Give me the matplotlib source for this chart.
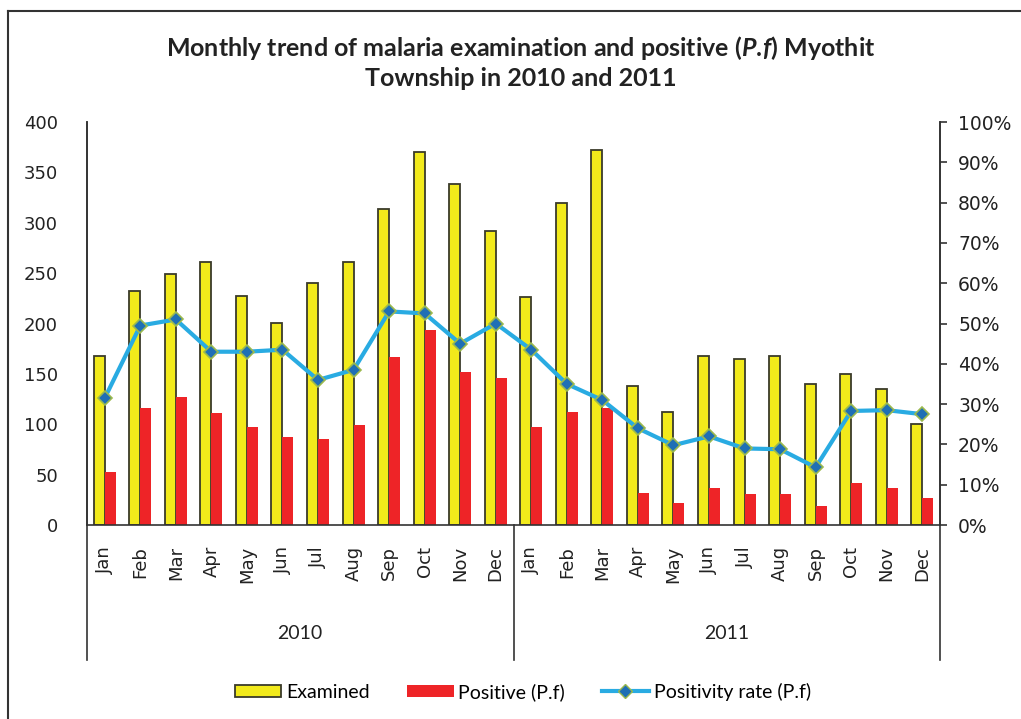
import numpy as np
import matplotlib.pyplot as plt
from matplotlib.lines import Line2D
from matplotlib.patches import Patch
from matplotlib.ticker import PercentFormatter

plt.rcParams["font.family"] = ["DejaVu Sans"]
plt.rcParams["mathtext.fontset"] = "custom"
plt.rcParams["mathtext.it"] = "Lato:italic:bold"
plt.rcParams["mathtext.rm"] = "Lato:bold"

months = ["Jan", "Feb", "Mar", "Apr", "May", "Jun", "Jul", "Aug", "Sep", "Oct", "Nov", "Dec"]
years = ["2010", "2011"]

examined = [168, 232, 249, 261, 227, 201, 240, 261, 314, 370, 338, 292,
            226, 320, 372, 138, 112, 168, 165, 168, 140, 150, 135, 100]
positive = [53, 116, 127, 111, 97, 87, 85, 99, 167, 194, 152, 146,
            97, 112, 116, 32, 22, 37, 31, 31, 19, 42, 37, 27]
pos_rate = [31.5, 49.5, 51, 43, 43, 43.5, 36, 38.5, 53, 52.5, 45, 50,
            43.5, 35, 31, 24, 19.8, 22, 19, 18.8, 14.3, 28.3, 28.5, 27.5]

yellow = "#F2EA1B"
red = "#EE2427"
line_blue = "#29ABE2"

fig = plt.figure(figsize=(10.21, 7.19), dpi=100)
ax = fig.add_axes([0.0852, 0.2698, 0.8355, 0.5605])
ax2 = ax.twinx()

x = np.arange(len(examined))
w = 0.31
ax.bar(x - w / 2, examined, width=w, color=yellow, edgecolor="#3a3a2a", linewidth=1.3, zorder=2)
ax.bar(x + w / 2, positive, width=w, color=red, edgecolor="none", zorder=2)

ax2.plot(x, pos_rate, color=line_blue, linewidth=3, marker="D", markersize=7,
         markerfacecolor="#1F6FB5", markeredgecolor="#9BB94E", markeredgewidth=1.2, zorder=3)

ax.set_xlim(-0.5, len(examined) - 0.5)
ax.set_ylim(0, 400)
ax.set_yticks(range(0, 401, 50))
ax2.set_ylim(0, 100)
ax2.set_yticks(range(0, 101, 10))
ax2.yaxis.set_major_formatter(PercentFormatter(decimals=0))

for a in (ax, ax2):
    a.spines["top"].set_visible(False)
    for s in a.spines.values():
        s.set_color("#333333")
        s.set_linewidth(1.2)
    a.tick_params(axis="y", labelsize=13, length=5, width=1.2, color="#333333", labelcolor="#222222")

ax.spines["right"].set_visible(False)
ax.spines["left"].set_visible(False)
ax2.spines["bottom"].set_visible(False)
ax.tick_params(axis="y", length=0, pad=21)
ax2.tick_params(axis="y", pad=8, labelsize=13.5)

ax.set_xticks(x)
ax.set_xticklabels(months * 2, rotation=90, fontsize=13, color="#222222", va="top")
ax.tick_params(axis="x", length=0, pad=15)

# group separators and year labels
trans = ax.get_xaxis_transform()
n = len(months)
for i in range(len(years) + 1):
    xs = i * n - 0.5
    ax.plot([xs, xs], [1.0 if i in (0, len(years)) else 0, -0.335], transform=trans,
            color="#333333", linewidth=1.2, clip_on=False)
for i, yr in enumerate(years):
    ax.text(i * n + (n - 1) / 2, -0.268, yr, transform=trans, ha="center", va="center",
            fontsize=14, color="#222222", family="Lato")

fig.suptitle("Monthly trend of malaria examination and positive ($\\mathit{P.\\!f}$) Myothit\nTownship in 2010 and 2011",
             x=0.51, y=0.953, fontsize=18, fontweight="bold", color="#222222", linespacing=1.3,
             family="Lato")

handles = [
    Patch(facecolor=yellow, edgecolor="#3a3a2a", linewidth=1.3),
    Patch(facecolor=red, edgecolor="none"),
    Line2D([0], [0], color=line_blue, linewidth=3, marker="D", markersize=7,
           markerfacecolor="#1F6FB5", markeredgecolor="#9BB94E"),
]
fig.legend(handles, ["Examined", "Positive (P.f)", "Positivity rate (P.f)"], loc="center",
           bbox_to_anchor=(0.512, 0.038), ncol=3, frameon=False,
           prop={"family": "Lato", "size": 14},
           handlelength=2.4, handleheight=0.55, handletextpad=0.25, columnspacing=1.9)

# outer frame (left and top edges only visible)
fig.add_artist(Line2D([8 / 1021, 8 / 1021], [0, 1 - 11 / 719], transform=fig.transFigure,
                      color="#333333", linewidth=1.5))
fig.add_artist(Line2D([8 / 1021, 1], [1 - 11 / 719, 1 - 11 / 719], transform=fig.transFigure,
                      color="#333333", linewidth=1.5))

fig.savefig("out.png", dpi=100)
